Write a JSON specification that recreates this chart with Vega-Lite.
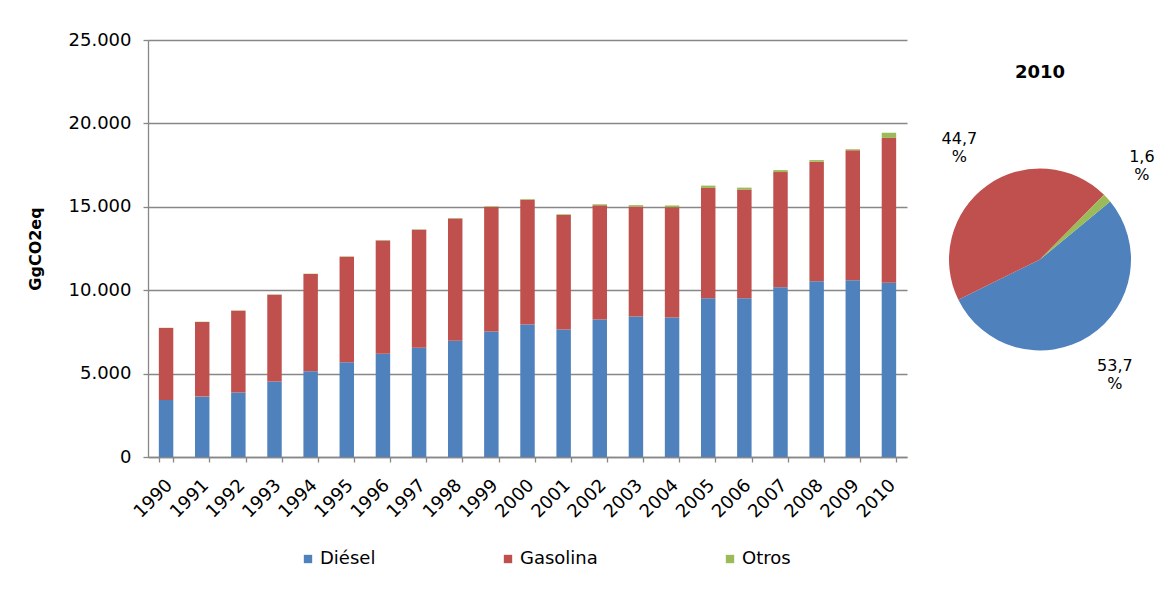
{
  "$schema": "https://vega.github.io/schema/vega-lite/v6.json",
  "padding": {"left": 27, "top": 31, "right": 5, "bottom": 5},
  "bounds": "flush",
  "spacing": 20,
  "background": "white",
  "config": {
    "locale": {"number": {"decimal": ",", "thousands": ".", "grouping": [3], "currency": ["", " €"]}},
    "font": "DejaVu Sans",
    "view": {"stroke": null},
    "axis": {"labelColor": "black", "titleColor": "black", "domainColor": "#878787", "tickColor": "#878787", "gridColor": "#878787", "domainWidth": 1.3, "tickWidth": 1.3, "gridWidth": 1.3}
  },
  "datasets": {
    "barras": [
      {"anio": "1990", "serie": "Diésel", "valor": 3420}, {"anio": "1990", "serie": "Gasolina", "valor": 4310}, {"anio": "1990", "serie": "Otros", "valor": 20},
      {"anio": "1991", "serie": "Diésel", "valor": 3620}, {"anio": "1991", "serie": "Gasolina", "valor": 4470}, {"anio": "1991", "serie": "Otros", "valor": 20},
      {"anio": "1992", "serie": "Diésel", "valor": 3860}, {"anio": "1992", "serie": "Gasolina", "valor": 4910}, {"anio": "1992", "serie": "Otros", "valor": 20},
      {"anio": "1993", "serie": "Diésel", "valor": 4520}, {"anio": "1993", "serie": "Gasolina", "valor": 5210}, {"anio": "1993", "serie": "Otros", "valor": 20},
      {"anio": "1994", "serie": "Diésel", "valor": 5140}, {"anio": "1994", "serie": "Gasolina", "valor": 5830}, {"anio": "1994", "serie": "Otros", "valor": 20},
      {"anio": "1995", "serie": "Diésel", "valor": 5680}, {"anio": "1995", "serie": "Gasolina", "valor": 6330}, {"anio": "1995", "serie": "Otros", "valor": 20},
      {"anio": "1996", "serie": "Diésel", "valor": 6190}, {"anio": "1996", "serie": "Gasolina", "valor": 6785}, {"anio": "1996", "serie": "Otros", "valor": 25},
      {"anio": "1997", "serie": "Diésel", "valor": 6550}, {"anio": "1997", "serie": "Gasolina", "valor": 7075}, {"anio": "1997", "serie": "Otros", "valor": 25},
      {"anio": "1998", "serie": "Diésel", "valor": 6970}, {"anio": "1998", "serie": "Gasolina", "valor": 7335}, {"anio": "1998", "serie": "Otros", "valor": 25},
      {"anio": "1999", "serie": "Diésel", "valor": 7530}, {"anio": "1999", "serie": "Gasolina", "valor": 7460}, {"anio": "1999", "serie": "Otros", "valor": 40},
      {"anio": "2000", "serie": "Diésel", "valor": 7950}, {"anio": "2000", "serie": "Gasolina", "valor": 7480}, {"anio": "2000", "serie": "Otros", "valor": 40},
      {"anio": "2001", "serie": "Diésel", "valor": 7650}, {"anio": "2001", "serie": "Gasolina", "valor": 6860}, {"anio": "2001", "serie": "Otros", "valor": 40},
      {"anio": "2002", "serie": "Diésel", "valor": 8250}, {"anio": "2002", "serie": "Gasolina", "valor": 6840}, {"anio": "2002", "serie": "Otros", "valor": 60},
      {"anio": "2003", "serie": "Diésel", "valor": 8430}, {"anio": "2003", "serie": "Gasolina", "valor": 6590}, {"anio": "2003", "serie": "Otros", "valor": 80},
      {"anio": "2004", "serie": "Diésel", "valor": 8370}, {"anio": "2004", "serie": "Gasolina", "valor": 6610}, {"anio": "2004", "serie": "Otros", "valor": 100},
      {"anio": "2005", "serie": "Diésel", "valor": 9510}, {"anio": "2005", "serie": "Gasolina", "valor": 6620}, {"anio": "2005", "serie": "Otros", "valor": 140},
      {"anio": "2006", "serie": "Diésel", "valor": 9510}, {"anio": "2006", "serie": "Gasolina", "valor": 6520}, {"anio": "2006", "serie": "Otros", "valor": 120},
      {"anio": "2007", "serie": "Diésel", "valor": 10170}, {"anio": "2007", "serie": "Gasolina", "valor": 6910}, {"anio": "2007", "serie": "Otros", "valor": 120},
      {"anio": "2008", "serie": "Diésel", "valor": 10530}, {"anio": "2008", "serie": "Gasolina", "valor": 7170}, {"anio": "2008", "serie": "Otros", "valor": 100},
      {"anio": "2009", "serie": "Diésel", "valor": 10590}, {"anio": "2009", "serie": "Gasolina", "valor": 7800}, {"anio": "2009", "serie": "Otros", "valor": 60},
      {"anio": "2010", "serie": "Diésel", "valor": 10450}, {"anio": "2010", "serie": "Gasolina", "valor": 8680}, {"anio": "2010", "serie": "Otros", "valor": 310}
    ],
    "torta": [
      {"serie": "Diésel", "pct": 53.7, "etiqueta": "53,7\n%"},
      {"serie": "Gasolina", "pct": 44.7, "etiqueta": "44,7\n%"},
      {"serie": "Otros", "pct": 1.6, "etiqueta": "1,6\n%"}
    ]
  },
  "resolve": {"legend": {"color": "independent"}},
  "hconcat": [
    {
      "width": 759,
      "height": 417,
      "data": {"name": "barras"},
      "mark": {"type": "bar"},
      "encoding": {
        "x": {
          "field": "anio", "type": "ordinal",
          "scale": {"paddingInner": 0.6, "paddingOuter": 0.3},
          "axis": {"title": null, "labelAngle": -45, "tickBand": "extent", "labelFontSize": 18, "tickSize": 5, "labelPadding": 14, "labelOffset": -3, "grid": false}
        },
        "y": {
          "field": "valor", "type": "quantitative", "stack": "zero",
          "scale": {"domain": [0, 25000]},
          "axis": {"title": "GgCO2eq", "values": [0, 5000, 10000, 15000, 20000, 25000], "format": ",d", "labelFontSize": 18, "tickSize": 5, "labelPadding": 12, "titleFontSize": 16, "titleFontWeight": "bold", "titlePadding": 25, "grid": true}
        },
        "color": {
          "field": "serie", "type": "nominal",
          "scale": {"domain": ["Diésel", "Gasolina", "Otros"], "range": ["#4F81BD", "#C0504D", "#9BBB59"]},
          "legend": {"title": null, "orient": "none", "legendX": 151, "legendY": 510, "direction": "horizontal", "symbolType": "square", "symbolSize": 70, "symbolStrokeWidth": 0, "labelFontSize": 18, "labelColor": "black", "columnPadding": 123, "labelOffset": 3, "padding": 0}
        },
        "order": {"field": "serie", "type": "nominal"}
      }
    },
    {
      "width": 226,
      "height": 439,
      "data": {"name": "torta"},
      "title": {"text": "2010", "fontSize": 18, "fontWeight": "bold", "color": "black", "anchor": "middle", "offset": 0, "baseline": "middle", "dy": 51},
      "encoding": {
        "theta": {"field": "pct", "type": "quantitative", "stack": true, "scale": {"range": [0.881, 7.164]}},
        "order": {"field": "serie", "type": "nominal"}
      },
      "layer": [
        {"mark": {"type": "arc", "outerRadius": 91}, "encoding": {"color": {"field": "serie", "type": "nominal", "legend": null}}},
        {"mark": {"type": "text", "radius": 138, "fontSize": 16, "lineBreak": "\n", "color": "black", "align": "center", "baseline": "middle", "dy": -9}, "encoding": {"text": {"field": "etiqueta"}}}
      ]
    }
  ]
}
